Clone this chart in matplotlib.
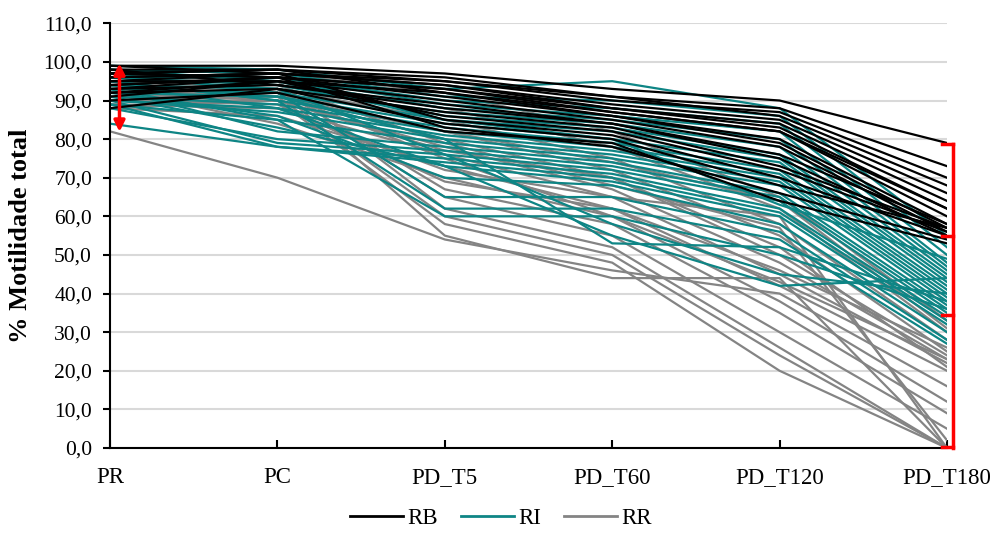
import matplotlib.pyplot as plt
from matplotlib.lines import Line2D

plt.rcParams['font.family'] = ['Liberation Serif', 'DejaVu Serif']

# Momentos de avaliação
momentos = ['PR', 'PC', 'PD_T5', 'PD_T60', 'PD_T120', 'PD_T180']

# % motilidade total por amostra (PR, PC, PD_T5, PD_T60, PD_T120, PD_T180)
rb = [
    [99, 99, 97, 93, 90, 79],
    [98, 98, 96, 91, 88, 73],
    [97, 98, 95, 90, 87, 70],
    [96, 97, 95, 91, 86, 68],
    [95, 97, 94, 89, 85, 66],
    [99, 97, 94, 88, 84, 64],
    [94, 96, 93, 88, 83, 62],
    [93, 96, 93, 87, 82, 60],
    [92, 95, 92, 86, 80, 58],
    [97, 96, 91, 86, 79, 57],
    [91, 95, 90, 85, 78, 56],
    [98, 94, 89, 84, 76, 58],
    [93, 94, 88, 84, 75, 55],
    [88, 93, 87, 83, 73, 57],
    [95, 95, 86, 82, 72, 56],
    [96, 97, 85, 81, 70, 55],
    [92, 93, 84, 80, 68, 57],
    [94, 96, 83, 78, 66, 54],
    [90, 92, 82, 79, 64, 53],
    [97, 98, 92, 87, 82, 62],
]

ri = [
    [99, 98, 93, 95, 88, 55],
    [98, 97, 91, 90, 86, 52],
    [97, 96, 90, 88, 84, 50],
    [96, 96, 89, 86, 82, 48],
    [95, 95, 88, 85, 80, 47],
    [94, 93, 87, 84, 78, 46],
    [96, 94, 86, 83, 76, 45],
    [93, 92, 85, 82, 75, 44],
    [92, 91, 84, 80, 74, 43],
    [95, 90, 83, 79, 72, 42],
    [91, 89, 82, 78, 71, 41],
    [94, 88, 81, 77, 70, 40],
    [90, 87, 80, 76, 69, 39],
    [89, 85, 79, 75, 68, 38],
    [93, 82, 78, 74, 66, 37],
    [88, 80, 77, 73, 65, 36],
    [90, 79, 76, 72, 64, 35],
    [89, 78, 75, 71, 62, 34],
    [84, 78, 74, 70, 61, 33],
    [91, 83, 73, 69, 60, 32],
    [92, 86, 70, 68, 58, 30],
    [97, 92, 65, 65, 56, 28],
    [95, 90, 62, 62, 54, 27],
    [93, 85, 60, 60, 50, 36],
    [96, 93, 76, 58, 45, 40],
    [90, 88, 73, 55, 42, 44],
    [94, 91, 80, 53, 52, 38],
    [98, 95, 85, 80, 63, 49],
]

rr = [
    [98, 97, 92, 82, 65, 33],
    [96, 95, 88, 78, 62, 30],
    [94, 93, 85, 75, 58, 28],
    [92, 92, 82, 72, 55, 25],
    [91, 91, 80, 70, 50, 24],
    [90, 90, 78, 67, 48, 23],
    [89, 88, 76, 65, 45, 22],
    [88, 86, 73, 62, 42, 20],
    [82, 70, 54, 46, 40, 16],
    [93, 84, 70, 60, 38, 12],
    [95, 93, 67, 58, 35, 9],
    [91, 92, 65, 55, 30, 5],
    [97, 95, 62, 52, 26, 0],
    [90, 91, 60, 50, 24, 0],
    [92, 90, 58, 48, 20, 0],
    [94, 93, 55, 44, 44, 0],
    [89, 88, 72, 65, 60, 0],
    [96, 94, 79, 68, 57, 2],
    [93, 92, 75, 60, 43, 23],
    [90, 89, 69, 62, 46, 26],
    [92, 91, 82, 74, 64, 31],
    [88, 90, 77, 70, 52, 21],
]

cor_rb = '#000000'
cor_ri = '#0e8585'
cor_rr = '#848484'

fig = plt.figure(figsize=(9.92, 5.33), dpi=100)
ax = fig.add_axes([0.111, 0.1595, 0.8436, 0.7968])

x = list(range(len(momentos)))
for serie in rr:
    ax.plot(x, serie, color=cor_rr, lw=1.6, zorder=2)
for serie in ri:
    ax.plot(x, serie, color=cor_ri, lw=1.6, zorder=3)
for serie in rb:
    ax.plot(x, serie, color=cor_rb, lw=1.6, zorder=4)

ax.set_xlim(0, len(momentos) - 1)
ax.set_ylim(0, 110)
ax.set_yticks(range(0, 111, 10))
ax.set_yticklabels([f'{v:.1f}'.replace('.', ',') for v in range(0, 111, 10)])
ax.set_xticks(x)
ax.set_xticklabels(momentos)

ax.grid(axis='y', color='#d9d9d9', lw=1.5, zorder=0)
ax.set_axisbelow(True)
for s in ['top', 'right']:
    ax.spines[s].set_visible(False)
for s in ['left', 'bottom']:
    ax.spines[s].set_linewidth(1.5)
    ax.spines[s].set_zorder(5)

ax.tick_params(axis='y', direction='out', length=5, width=1.5, pad=8, labelsize=15.5)
ax.tick_params(axis='x', direction='in', length=6, width=1.5, pad=14, labelsize=16.5)

ax.set_ylabel('% Motilidade total', fontsize=19, fontweight='bold', labelpad=8)

# Amplitude em PR
ax.annotate('', xy=(0.056, 81.9), xytext=(0.056, 99.6),
            arrowprops=dict(arrowstyle='<|-|>', color='#ff0000', lw=2.5,
                            mutation_scale=16, shrinkA=0, shrinkB=0),
            zorder=6, annotation_clip=False)

# Chaveta em PD_T180
xb, xt = 5.034, 4.968
ax.plot([xb, xb], [0, 78.7], color='#ff0000', lw=2.5, clip_on=False, zorder=6)
for yv in [78.7, 54.9, 34.4, 0.3]:
    ax.plot([xt, xb], [yv, yv], color='#ff0000', lw=2.5, clip_on=False, zorder=6)

handles = [Line2D([], [], color=cor_rb, lw=2),
           Line2D([], [], color=cor_ri, lw=2),
           Line2D([], [], color=cor_rr, lw=2)]
fig.legend(handles, ['RB', 'RI', 'RR'], loc='center', bbox_to_anchor=(0.505, 0.027),
           ncol=3, frameon=False, fontsize=16.5, handlelength=2.3,
           handletextpad=0.2, columnspacing=1.0)

fig.savefig('out.png', dpi=100)
